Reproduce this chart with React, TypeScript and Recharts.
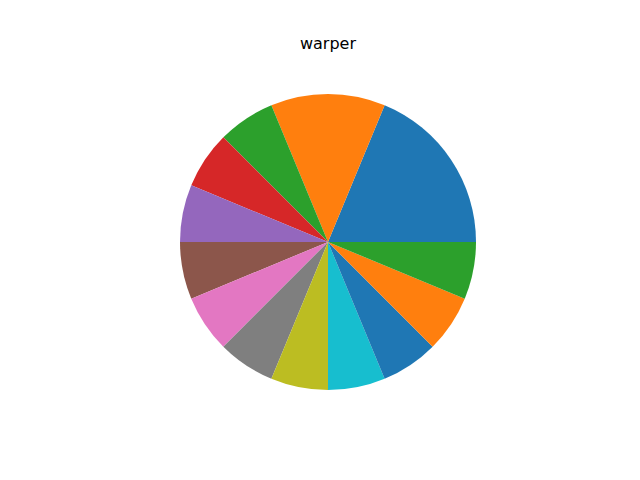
import React from "react";
import { PieChart, Pie, Cell } from "recharts";

const labels = ["A", "B", "C", "D", "E", "F", "G", "H", "I", "J", "K", "L", "M"];
const values = [3, 2, 1, 1, 1, 1, 1, 1, 1, 1, 1, 1, 1];
const colors = [
  "#1f77b4", "#ff7f0e", "#2ca02c", "#d62728", "#9467bd", "#8c564b",
  "#e377c2", "#7f7f7f", "#bcbd22", "#17becf", "#1f77b4", "#ff7f0e", "#2ca02c",
];

const data = labels.map((name, i) => ({ name, value: values[i] }));

export default function App() {
  return (
    <div style={{ position: "absolute", left: 0, top: 0, width: 640, height: 480, background: "#fff" }}>
      <PieChart width={640} height={480} margin={{ top: 0, right: 0, bottom: 0, left: 0 }}>
        <text x={328} y={49} textAnchor="middle" fontFamily="DejaVu Sans" fontSize={16} fill="#000">
          warper
        </text>
        <Pie
          data={data}
          dataKey="value"
          nameKey="name"
          cx={328}
          cy={242}
          innerRadius={0}
          outerRadius={148}
          startAngle={0}
          endAngle={360}
          stroke="none"
          isAnimationActive={false}
          labelLine={false}
          label={false}
        >
          {data.map((d, i) => (
            <Cell key={d.name} fill={colors[i]} />
          ))}
        </Pie>
      </PieChart>
    </div>
  );
}
